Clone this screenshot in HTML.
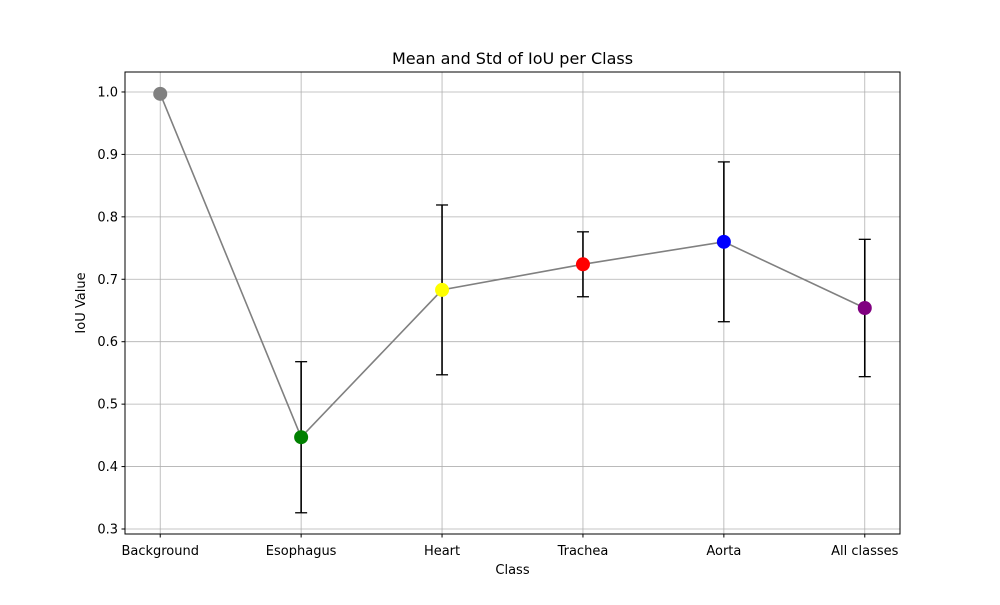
<!DOCTYPE html>
<html><head><meta charset="utf-8"><style>
body{margin:0;background:#fff;}
svg text{font-family:"DejaVu Sans","Liberation Sans",sans-serif;fill:#000;}
</style></head><body>
<svg id="chart" width="1000" height="600" xmlns="http://www.w3.org/2000/svg">
<rect width="1000" height="600" fill="#fff"/>
<g id="grid"></g>
<g id="series"></g>
<rect x="125" y="72" width="775" height="462" fill="none" stroke="#000" stroke-width="1"/>
<g id="ticks"></g>
<text x="512.5" y="64" text-anchor="middle" font-size="16">Mean and Std of IoU per Class</text>
<text x="512.5" y="574" text-anchor="middle" font-size="13">Class</text>
<text transform="translate(85,303) rotate(-90)" text-anchor="middle" font-size="13">IoU Value</text>
</svg>
<script>
const categories=["Background","Esophagus","Heart","Trachea","Aorta","All classes"];
const means=[0.997,0.447,0.683,0.724,0.760,0.654];
const stds=[0.0,0.121,0.136,0.052,0.128,0.110];
const colors=["gray","green","yellow","red","blue","purple"];
const yTicks=[0.3,0.4,0.5,0.6,0.7,0.8,0.9,1.0];
const NS="http://www.w3.org/2000/svg";
const L=125,R=900,T=72,B=534;
const xMin=-0.25,xMax=categories.length-0.75,yMin=0.292,yMax=1.032;
const xs=i=>L+(i-xMin)/(xMax-xMin)*(R-L);
const ys=v=>B-(v-yMin)/(yMax-yMin)*(B-T);
function mk(tag,attrs,parent,txt){const e=document.createElementNS(NS,tag);for(const k in attrs)e.setAttribute(k,attrs[k]);if(txt!==undefined)e.textContent=txt;document.getElementById(parent).appendChild(e);return e;}
yTicks.forEach(v=>{const y=ys(v);
 let g=mk('line',{x1:L,x2:R,y1:y,y2:y,stroke:'#b0b0b0','stroke-width':0.8},'grid');
 
 
 let t=mk('line',{x1:L-3.5,x2:L,y1:y,y2:y,stroke:'#000'},'ticks');
 
 
 let l=mk('text',{x:L-7,y:y+4.5,'text-anchor':'end','font-size':13},'ticks',v.toFixed(1));
 
 
});
categories.forEach((c,i)=>{const x=xs(i);
 let g=mk('line',{x1:x,x2:x,y1:T,y2:B,stroke:'#b0b0b0','stroke-width':0.8},'grid');
 
 
 let t=mk('line',{x1:x,x2:x,y1:B,y2:B+3.5,stroke:'#000'},'ticks');
 
 
 let l=mk('text',{x:x,y:B+21,'text-anchor':'middle','font-size':13},'ticks',c);
 
 
});
const pts=means.map((m,i)=>xs(i)+','+ys(m)).join(' ');
let pl=mk('polyline',{points:pts,fill:'none',stroke:'gray','stroke-width':1.6},'series');


means.forEach((m,i)=>{const x=xs(i),s=stds[i];
 if(s>0){
  let e=mk('line',{x1:x,x2:x,y1:ys(m-s),y2:ys(m+s),stroke:'#000','stroke-width':1.6},'series');
  
  
  [m-s,m+s].forEach(v=>{let c=mk('line',{x1:x-6,x2:x+6,y1:ys(v),y2:ys(v),stroke:'#000','stroke-width':1.3},'series');
   
   });
 }
 let p=mk('circle',{cx:x,cy:ys(m),r:7,fill:colors[i]},'series');
 
 
});
</script>
</body></html>
